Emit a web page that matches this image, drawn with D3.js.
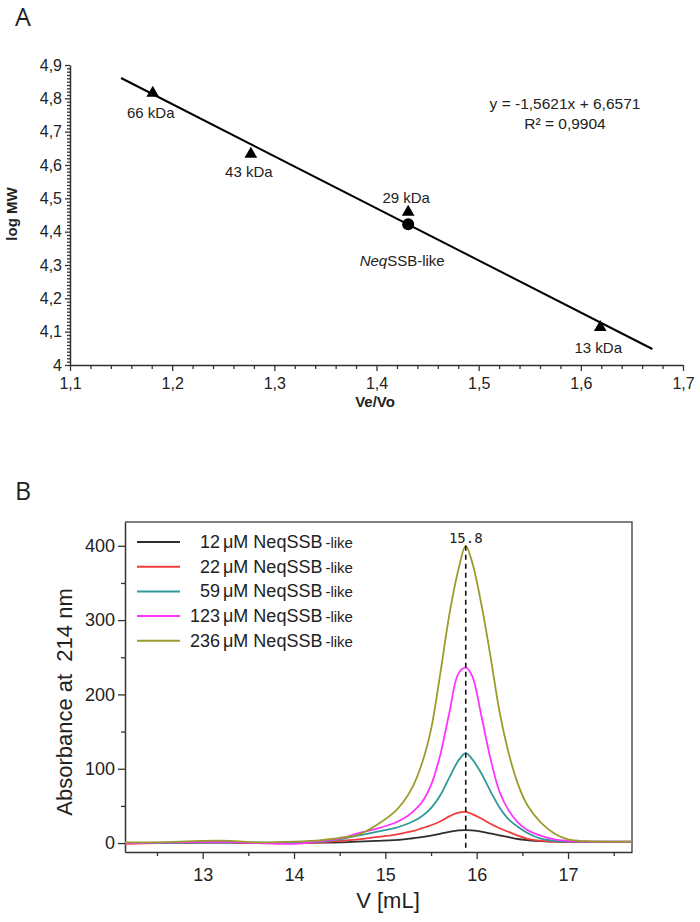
<!DOCTYPE html>
<html>
<head>
<meta charset="utf-8">
<script src="https://cdn.jsdelivr.net/npm/d3@7"></script>
<style>
    body { margin: 0; background: #fff; }
    text { font-family: "Liberation Sans", Arial, sans-serif; fill: #222; }
</style>
</head>
<body>
<script>
"use strict";
(function(){
    // ---- Panel A data: calibration standards ----
    const standardNames = ["66 kDa", "43 kDa", "29 kDa", "13 kDa"];
    const standardVe = [1.181, 1.277, 1.431, 1.619];
    const standardLogMW = [4.816, 4.633, 4.459, 4.113];
    const sampleName = "NeqSSB-like";
    const sampleVe = [1.431];
    const sampleLogMW = [4.422];
    // fit line end points (Ve/Vo, log MW)
    const fitVe = [1.15, 1.67];
    const fitLogMW = [4.861, 4.048];
    const equationLines = ["y = -1,5621x + 6,6571", "R² = 0,9904"];
    const aXTicks = [1.1, 1.2, 1.3, 1.4, 1.5, 1.6, 1.7];
    const aYTicks = [4, 4.1, 4.2, 4.3, 4.4, 4.5, 4.6, 4.7, 4.8, 4.9];

    // ---- Panel B data: elution profiles ----
    const volumes = [12.15, 12.5, 13.0, 13.3, 13.6, 14.0, 14.3, 14.5, 14.7, 14.9, 15.1, 15.2, 15.3, 15.4, 15.5,
        15.6, 15.7, 15.8, 15.88, 15.95, 16.05, 16.15, 16.25, 16.35, 16.45, 16.55, 16.7, 16.85, 17.0, 17.2, 17.7];
    const abs12 = [0, 0, 0.5, 0.5, 0, 0, 0.5, 1, 2, 3, 4, 5, 6.5, 8, 10,
        12.5, 15, 17, 17.5, 17, 15.5, 13, 10.5, 8, 5.5, 4, 2.5, 2, 1.5, 1.5, 1.5];
    const abs22 = [-1, 0, 1, 1, 0, 0, 1, 3, 5, 8, 11, 13.5, 16, 20, 24,
        29, 36, 41, 42, 39, 33, 26, 20, 15, 10, 6, 3, 2, 1.5, 1.5, 1.5];
    const abs59 = [0, 0, 1, 1, 0.5, 0.5, 2, 5, 10, 15, 20, 24, 29, 36, 47,
        64, 88, 111, 121, 113, 94, 70, 48, 32, 22, 14, 6, 3, 2, 2, 2];
    const abs123 = [0, 0.5, 1.5, 1.5, 0, -1, 3, 6, 13, 19, 27, 33, 42, 55, 78,
        118, 175, 228, 236, 225, 172, 114, 69, 44, 28, 18, 10, 5, 3, 2, 2];
    const abs236 = [1, 1, 3, 3, 1, 2, 4, 7, 11, 24, 42, 56, 76, 107, 153,
        227, 307, 368, 400, 378, 322, 252, 177, 121, 80, 52, 28, 13, 5, 2.5, 2];
    const concentrations = ["12", "22", "59", "123", "236"];
    const seriesColors = ["#2e2e2e", "#f03c3c", "#2f9a9a", "#ff33ff", "#9c9c2c"];
    const peakVolume = 15.88;
    const peakLabel = "15.8";
    const bXTicks = [13, 14, 15, 16, 17];
    const bXMinor = [12.5, 13.5, 14.5, 15.5, 16.5, 17.5];
    const bYTicks = [0, 100, 200, 300, 400];
    const bYMinor = [50, 150, 250, 350];

    const svg = d3.select("body").append("svg")
        .attr("width", 700)
        .attr("height", 922);

    const commaFormat = d3.formatLocale({decimal: ",", thousands: ".", grouping: [3], currency: ["", ""]})
        .format(".2~f");

    drawPanelA();
    drawPanelB();

    // Calibration plot
    function drawPanelA() {
        const x = d3.scaleLinear().domain([1.1, 1.7]).range([70, 683]);
        const y = d3.scaleLinear().domain([4, 4.9]).range([365, 65]);

        svg.append("text")
            .attr("x", 15).attr("y", 26)
            .style("font-family", "'Open Sans', sans-serif")
            .attr("font-size", 25)
            .text("A");

        // minor ticks
        svg.append("g")
            .attr("transform", "translate(0,365)")
            .call(d3.axisBottom(x).tickValues(d3.range(31).map(i => 1.1 + i * 0.02).filter((v, i) => i % 5 !== 0))
                .tickSize(4).tickFormat(""))
            .call(g => g.select(".domain").remove());
        svg.append("g")
            .attr("transform", "translate(70,0)")
            .call(d3.axisLeft(y).tickValues(d3.range(91).map(i => 4 + i * 0.01).filter((v, i) => i % 10 !== 0))
                .tickSize(3).tickFormat(""))
            .call(g => g.select(".domain").remove());

        const xAxis = svg.append("g")
            .attr("transform", "translate(0,365)")
            .call(d3.axisBottom(x).tickValues(aXTicks).tickFormat(commaFormat).tickSize(6).tickSizeOuter(0));
        const yAxis = svg.append("g")
            .attr("transform", "translate(70,0)")
            .call(d3.axisLeft(y).tickValues(aYTicks).tickFormat(commaFormat).tickSize(5).tickSizeOuter(0));

        svg.selectAll("g.tick line").attr("stroke", "#333");
        [xAxis, yAxis].forEach(g => {
            g.select(".domain").attr("stroke", "#333").attr("stroke-width", 1.5);
            g.selectAll("text").attr("font-size", 16).attr("fill", "#333")
                .style("font-family", "'Liberation Sans', Arial, sans-serif");
        });
        xAxis.selectAll("text").attr("dy", "0.95em");

        // axis titles
        svg.append("text")
            .attr("text-anchor", "middle")
            .attr("x", 375).attr("y", 407)
            .attr("font-size", 15).attr("font-weight", "bold")
            .text("Ve/Vo");
        svg.append("text")
            .attr("text-anchor", "middle")
            .attr("transform", "translate(17,214) rotate(-90)")
            .attr("font-size", 15).attr("font-weight", "bold")
            .text("log MW");

        // fit line
        const fit = fitVe.map((v, i) => [v, fitLogMW[i]]);
        svg.append("path")
            .attr("d", d3.line().x(d => x(d[0])).y(d => y(d[1]))(fit))
            .attr("fill", "none")
            .attr("stroke", "#000")
            .attr("stroke-width", 2);

        // standards
        const tri = d3.symbol(d3.symbolTriangle, 70);
        const labelDy = [25, 23, -9, 26];
        standardNames.forEach((name, i) => {
            svg.append("path")
                .attr("d", tri())
                .attr("transform", `translate(${x(standardVe[i])},${y(standardLogMW[i])})`)
                .attr("fill", "#000");
            svg.append("text")
                .attr("text-anchor", "middle")
                .attr("x", x(standardVe[i]) - 2)
                .attr("y", y(standardLogMW[i]) + labelDy[i])
                .attr("font-size", 15)
                .text(name);
        });

        // sample
        svg.append("circle")
            .attr("cx", x(sampleVe[0]))
            .attr("cy", y(sampleLogMW[0]))
            .attr("r", 6)
            .attr("fill", "#000");
        const sampleText = svg.append("text")
            .attr("text-anchor", "middle")
            .attr("x", x(sampleVe[0]) - 6)
            .attr("y", y(sampleLogMW[0]) + 42)
            .attr("font-size", 15);
        sampleText.append("tspan").attr("font-style", "italic").text(sampleName.slice(0, 3));
        sampleText.append("tspan").text(sampleName.slice(3));

        // equation
        equationLines.forEach((line, i) => {
            svg.append("text")
                .attr("text-anchor", "middle")
                .attr("x", 565).attr("y", 109 + i * 20)
                .attr("font-size", 15.5)
                .text(line);
        });
    }

    // Elution profiles
    function drawPanelB() {
        const x = d3.scaleLinear().domain([12.15, 17.7]).range([125, 632]);
        const y = d3.scaleLinear().domain([-12, 432]).range([852, 522]);

        svg.append("text")
            .attr("x", 15).attr("y", 500)
            .style("font-family", "'Open Sans', sans-serif")
            .attr("font-size", 25)
            .text("B");

        // frame (top & right)
        svg.append("path")
            .attr("d", `M${x.range()[0]},${y.range()[1]}H${x.range()[1]}V${y.range()[0]}`)
            .attr("fill", "none")
            .attr("stroke", "#555")
            .attr("stroke-width", 1.5);

        svg.append("g")
            .attr("transform", "translate(0,852)")
            .call(d3.axisBottom(x).tickValues(bXMinor).tickSize(4).tickFormat(""))
            .call(g => g.select(".domain").remove());
        svg.append("g")
            .attr("transform", "translate(125,0)")
            .call(d3.axisLeft(y).tickValues(bYMinor).tickSize(4).tickFormat(""))
            .call(g => g.select(".domain").remove());

        const xAxis = svg.append("g")
            .attr("transform", "translate(0,852)")
            .call(d3.axisBottom(x).tickValues(bXTicks).tickFormat(d3.format("d")).tickSize(7).tickSizeOuter(0));
        const yAxis = svg.append("g")
            .attr("transform", "translate(125,0)")
            .call(d3.axisLeft(y).tickValues(bYTicks).tickFormat(d3.format("d")).tickSize(7).tickSizeOuter(0));

        [xAxis, yAxis].forEach(g => {
            g.select(".domain").attr("stroke", "#333").attr("stroke-width", 1.5);
            g.selectAll("text").attr("font-size", 18).attr("fill", "#333")
                .style("font-family", "'Liberation Sans', Arial, sans-serif");
        });
        svg.selectAll("g.tick line").attr("stroke", "#333").attr("stroke-width", 1.3);
        xAxis.selectAll("text").attr("dy", "1.05em");

        svg.append("text")
            .attr("text-anchor", "middle")
            .attr("x", 388).attr("y", 908)
            .attr("font-size", 22)
            .text("V [mL]");
        svg.append("text")
            .attr("text-anchor", "middle")
            .attr("transform", "translate(72,702) rotate(-90)")
            .attr("font-size", 22)
            .attr("xml:space", "preserve")
            .text("Absorbance at  214 nm");

        // curves
        svg.append("clipPath").attr("id", "clipB")
            .append("rect")
            .attr("x", 125).attr("y", 522)
            .attr("width", 507).attr("height", 330);
        const series = [abs12, abs22, abs59, abs123, abs236];
        const line = d3.line()
            .x((d, i) => x(volumes[i]))
            .y(d => y(d))
            .curve(d3.curveCatmullRom.alpha(0.5));
        const curves = svg.append("g").attr("clip-path", "url(#clipB)");
        series.forEach((s, i) => {
            curves.append("path")
                .attr("d", line(s))
                .attr("fill", "none")
                .attr("stroke", seriesColors[i])
                .attr("stroke-width", 1.8);
        });

        // peak marker
        svg.append("line")
            .attr("x1", x(peakVolume)).attr("x2", x(peakVolume))
            .attr("y1", y(d3.max(abs236))).attr("y2", 852)
            .attr("stroke", "#111")
            .attr("stroke-width", 1.6)
            .attr("stroke-dasharray", "5,4");
        svg.append("text")
            .attr("text-anchor", "middle")
            .attr("x", x(peakVolume)).attr("y", 543)
            .style("font-family", "'DejaVu Sans Mono', monospace")
            .attr("font-size", 14)
            .attr("fill", "#444")
            .text(peakLabel);

        // legend
        concentrations.forEach((c, i) => {
            const ly = 542 + i * 24.7;
            svg.append("line")
                .attr("x1", 137).attr("x2", 180)
                .attr("y1", ly).attr("y2", ly)
                .attr("stroke", seriesColors[i])
                .attr("stroke-width", 2);
            svg.append("text")
                .attr("text-anchor", "end")
                .attr("x", 220).attr("y", ly + 6)
                .attr("font-size", 18)
                .text(c);
            const t = svg.append("text")
                .attr("x", 223).attr("y", ly + 6)
                .attr("font-size", 18);
            t.append("tspan").text("μM NeqSSB");
            t.append("tspan").attr("dx", 3).attr("font-size", 15).text("-like");
        });
    }
})()
</script>
</body>
</html>
